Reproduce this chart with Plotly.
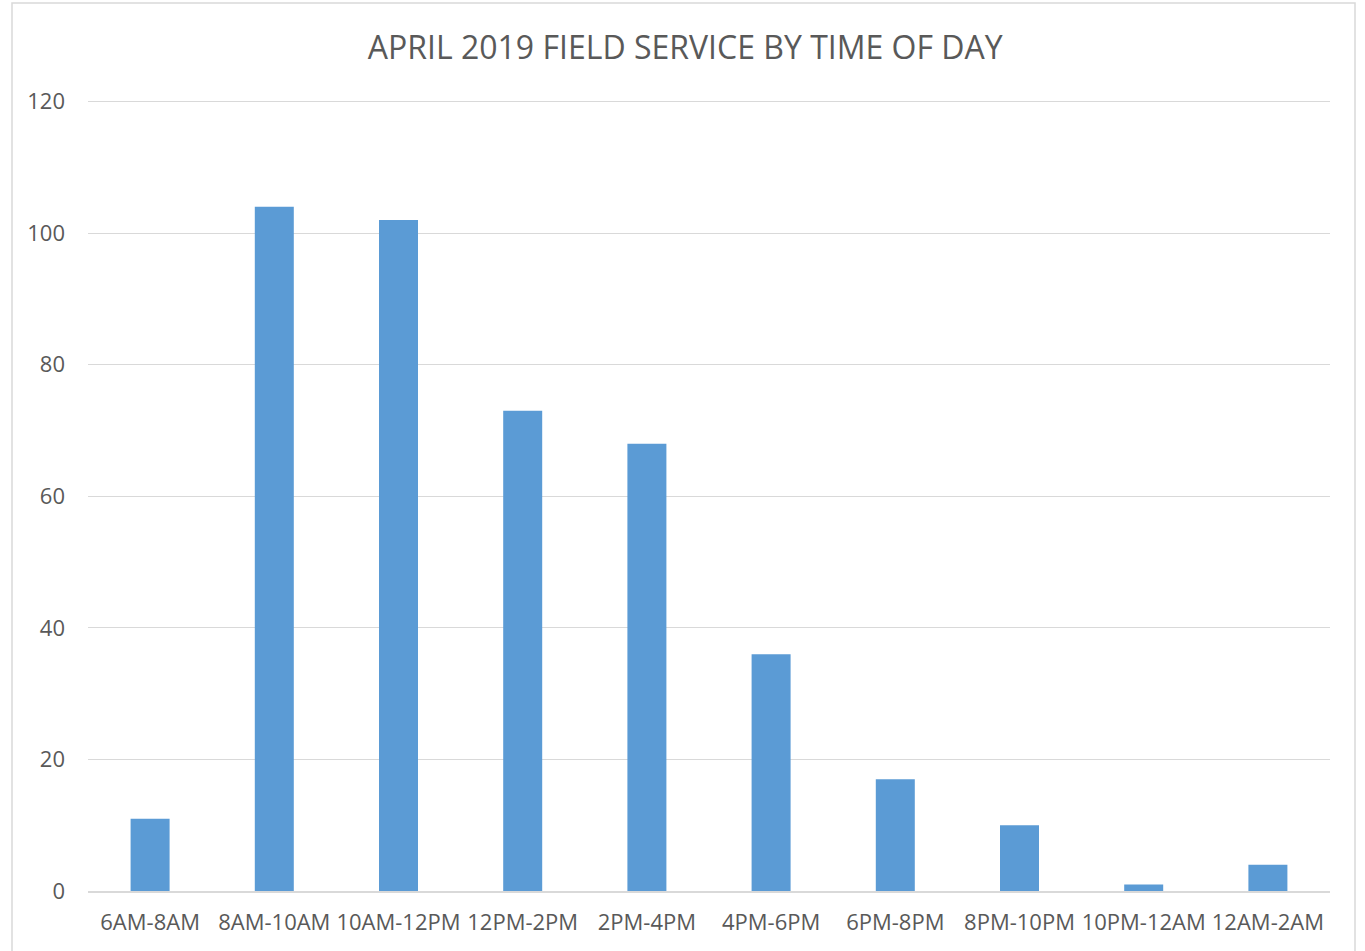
import plotly.graph_objects as go

categories = ["6AM-8AM", "8AM-10AM", "10AM-12PM", "12PM-2PM", "2PM-4PM",
              "4PM-6PM", "6PM-8PM", "8PM-10PM", "10PM-12AM", "12AM-2AM"]
values = [11, 104, 102, 73, 68, 36, 17, 10, 1, 4]
y_ticks = [0, 20, 40, 60, 80, 100, 120]

text_color = "#595959"
grid_color = "#D9D9D9"
font_family = "Open Sans, Noto Sans, sans-serif"

fig = go.Figure(go.Bar(
    x=categories, y=values,
    marker=dict(color="#5B9BD5", line=dict(width=0)),
))

W, H = 1365, 951
L, R, B = 88, 35, 60
y_top_px, y_zero_px = 102, 891
ymax = 121
T = round(y_zero_px - (y_zero_px - y_top_px) * ymax / 120)
pw, ph = W - L - R, H - T - B

fig.update_layout(
    width=W, height=H,
    margin=dict(l=L, r=R, t=T, b=B, pad=0),
    paper_bgcolor="white", plot_bgcolor="white",
    bargap=0.686,
    showlegend=False,
    font=dict(family=font_family, color=text_color, size=22),
    title=dict(text="APRIL 2019 FIELD SERVICE BY TIME OF DAY",
               x=0.502, xanchor="center", xref="container", y=1 - 48 / H, yanchor="middle",
               font=dict(size=32, color=text_color, family=font_family)),
    xaxis=dict(showgrid=False, showline=True, linecolor=grid_color, linewidth=2,
               ticks="", ticklabelstandoff=11,
               tickfont=dict(size=22, color=text_color), fixedrange=True),
    yaxis=dict(range=[0, ymax], tickvals=y_ticks, showgrid=True, gridcolor=grid_color,
               gridwidth=1.2, zeroline=False, showline=False, ticks="",
               ticklabelstandoff=22,
               tickfont=dict(size=22, color=text_color)),
    shapes=[dict(type="rect", xref="paper", yref="paper",
                 x0=(12 - L) / pw, x1=(1355 - L) / pw,
                 y0=(H - B - 960) / ph, y1=(H - B - 3) / ph,
                 line=dict(color="#D9D9D9", width=1.5), layer="below")],
)

fig.write_html("out.html", config={"displayModeBar": False},
               post_script="document.body.style.margin='0';")
